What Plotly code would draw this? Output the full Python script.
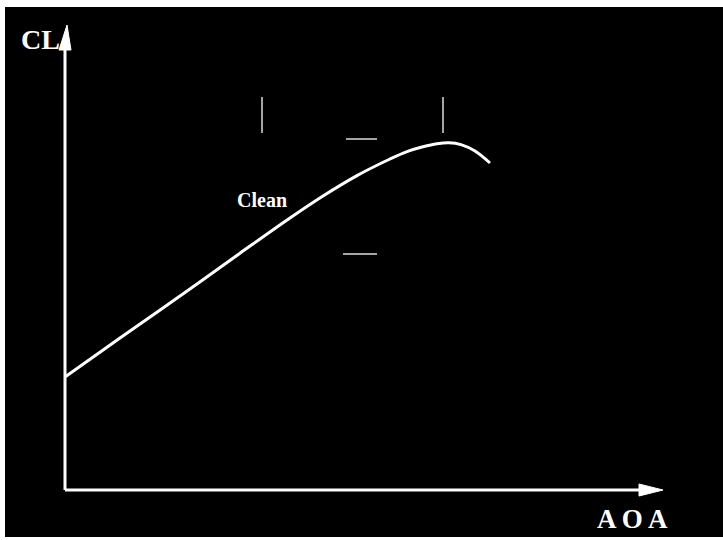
import plotly.graph_objects as go

# Lift curve (clean configuration)
aoa = [0.0, 2.75, 5.75, 8.75, 11.25, 12.9, 14.6, 16.25, 17.1, 17.9, 18.6, 19.2, 19.8, 20.5, 21.25]
cl = [0.565, 0.76, 0.97, 1.184, 1.36, 1.47, 1.572, 1.655, 1.692, 1.716, 1.731, 1.736, 1.727, 1.695, 1.635]

# Short reference marks
vmark_aoa = [9.85, 18.9]
vmark_cl = [1.785, 1.965]
hmark_cl = [1.755, 1.18]
hmark_aoa = [[14.05, 15.6], [13.9, 15.6]]

x_label = "A O A"
y_label = "CL"
curve_label = "Clean"

XR = [-3.0, 32.9]
YR = [-0.235, 2.415]
PX_X = 20.0   # px per AOA unit
PX_Y = 200.0  # px per CL unit

fig = go.Figure()
fig.add_trace(go.Scatter(x=aoa, y=cl, mode="lines",
                         line=dict(color="white", width=3, shape="spline", smoothing=1.0),
                         hoverinfo="skip", showlegend=False))

shapes = []
W = "white"
# y axis
shapes.append(dict(type="line", x0=0, x1=0, y0=0, y1=2.2, line=dict(color=W, width=3)))
shapes.append(dict(type="path",
                   path=f"M {-6/PX_X},2.2 L {6/PX_X},2.2 L {0.1},{2.325} Z",
                   fillcolor=W, line=dict(color=W, width=1)))
# x axis
shapes.append(dict(type="line", x0=0, x1=28.8, y0=0, y1=0, line=dict(color=W, width=3)))
shapes.append(dict(type="path",
                   path=f"M 28.7,{6/PX_Y} L 28.7,{-6/PX_Y} L 29.9,0 Z",
                   fillcolor=W, line=dict(color=W, width=1)))
# reference marks
for xv in vmark_aoa:
    shapes.append(dict(type="line", x0=xv, x1=xv, y0=vmark_cl[0], y1=vmark_cl[1],
                       line=dict(color="#dddddd", width=1.5)))
for yv, (xa, xb) in zip(hmark_cl, hmark_aoa):
    shapes.append(dict(type="line", x0=xa, x1=xb, y0=yv, y1=yv,
                       line=dict(color="#dddddd", width=1.5)))

font = "Liberation Serif, Times New Roman, serif"
ann = [
    dict(x=-1.25, y=2.255, text=f"<b>{y_label}</b>", showarrow=False,
         font=dict(family=font, size=28, color=W)),
    dict(x=28.35, y=-0.145, text=f"<b>{x_label}</b>", showarrow=False,
         font=dict(family=font, size=27, color=W)),
    dict(x=9.85, y=1.45, text=f"<b>{curve_label}</b>", showarrow=False,
         font=dict(family=font, size=20, color=W)),
]

fig.update_layout(
    width=723, height=540,
    margin=dict(l=5, r=0, t=7, b=3),
    paper_bgcolor="white", plot_bgcolor="black",
    xaxis=dict(range=XR, visible=False, fixedrange=True),
    yaxis=dict(range=YR, visible=False, fixedrange=True),
    shapes=shapes, annotations=ann, showlegend=False,
)
fig.write_html("out.html", config={"displayModeBar": False},
               post_script="document.body.style.margin='0';")
